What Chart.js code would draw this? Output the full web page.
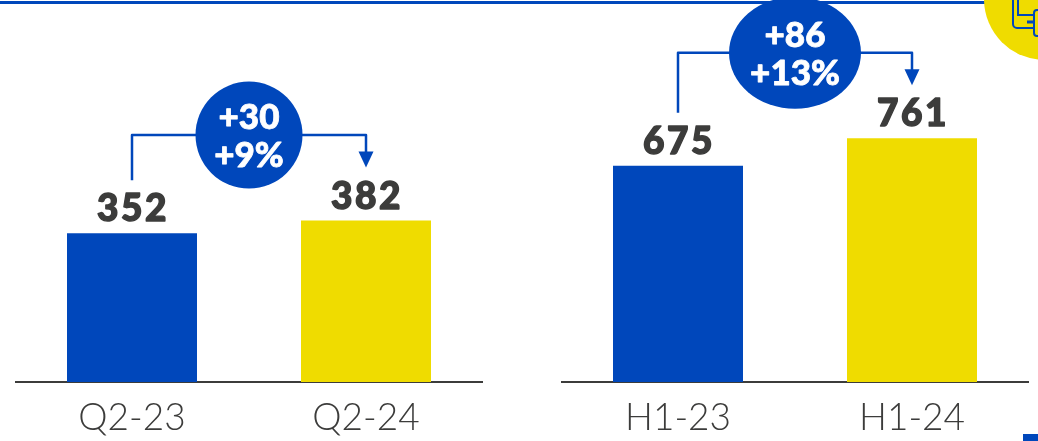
<!DOCTYPE html>
<html>
<head>
<meta charset="utf-8">
<title>Q2 and H1 comparison</title>
<script src="https://cdn.jsdelivr.net/npm/chart.js@4"></script>
<style>
  html, body { margin: 0; padding: 0; background: #fff; overflow: hidden; }
  body { position: relative; width: 1038px; height: 441px; }
  .top-rule { position: absolute; left: 0; top: 1px; width: 990px; height: 3px; background: #0047bb; }
  .badge { position: absolute; left: 0; top: 0; }
  .corner { position: absolute; left: 1023px; top: 434px; width: 15px; height: 7px; background: #0047bb; }
  .panel { position: absolute; top: 0; width: 468px; height: 441px; }
  #quarterChart { left: 15px; }
  #halfChart { left: 561px; }
  canvas { display: block; }
</style>
</head>
<body>
<div class="top-rule"></div>
<svg class="badge" width="1038" height="441">
  <circle cx="1045" cy="-1" r="61" fill="#efdc00"/>
  <g fill="none" stroke="#0047bb" stroke-width="2">
    <path d="M1013 0V24a4 4 0 0 0 4 4H1033"/>
    <path d="M1018 0V15H1034"/>
    <path d="M1027 22H1034" stroke-width="3"/>
    <rect x="1034" y="10" width="10" height="26" rx="3"/>
  </g>
</svg>
<div class="corner"></div>
<div class="panel" id="quarterChart"><canvas id="quarterCanvas" width="468" height="441"></canvas></div>
<div class="panel" id="halfChart"><canvas id="halfCanvas" width="468" height="441"></canvas></div>

<script>
const quarterLabels = ["Q2-23", "Q2-24"];
const quarterValues = [352, 382];
const quarterDelta = ["+30", "+9%"];

const halfLabels = ["H1-23", "H1-24"];
const halfValues = [675, 761];
const halfDelta = ["+86", "+13%"];

const barColors = ["#0047bb", "#efdc00"];
const blue = "#0047bb";
const dark = "#3c3c3b";

// Heavier than the installed Lato bold: fill plus a thin outline
function heavyText(ctx, text, x, y, weight) {
  ctx.lineWidth = weight;
  ctx.lineJoin = "round";
  ctx.strokeStyle = ctx.fillStyle;
  ctx.strokeText(text, x, y);
  ctx.fillText(text, x, y);
}

// Value labels, bracket with arrow and the delta bubble over each pair of bars
const annotate = {
  id: "annotate",
  afterDatasetsDraw(chart, args, opts) {
    const ctx = chart.ctx;
    const bars = chart.getDatasetMeta(0).data;
    const values = chart.data.datasets[0].data;

    ctx.save();
    ctx.textAlign = "center";
    ctx.textBaseline = "alphabetic";
    ctx.fillStyle = dark;
    ctx.font = "900 37px Lato";
    ctx.letterSpacing = "2.5px";
    bars.forEach((bar, i) => heavyText(ctx, String(values[i]), bar.x + 1, bar.y - 12, 1.4));
    ctx.letterSpacing = "0px";

    const x0 = bars[0].x;
    const x1 = bars[1].x;
    const top = Math.min(bars[0].y, bars[1].y) - 85.5;
    const midX = (x0 + x1) / 2;

    ctx.strokeStyle = blue;
    ctx.lineWidth = 2.5;
    ctx.lineJoin = "round";
    ctx.beginPath();
    ctx.moveTo(x0, bars[0].y - 53);
    ctx.lineTo(x0, top);
    ctx.lineTo(x1, top);
    ctx.lineTo(x1, bars[1].y - 68);
    ctx.stroke();

    ctx.fillStyle = blue;
    ctx.beginPath();
    ctx.moveTo(x1 - 7.5, bars[1].y - 69);
    ctx.lineTo(x1 + 7.5, bars[1].y - 69);
    ctx.lineTo(x1, bars[1].y - 53);
    ctx.closePath();
    ctx.fill();

    ctx.beginPath();
    ctx.ellipse(midX, top, opts.rx, opts.ry, 0, 0, Math.PI * 2);
    ctx.fill();

    ctx.fillStyle = "#fff";
    ctx.font = "900 35px Lato";
    heavyText(ctx, opts.delta[0], midX, top - 6, 0.8);
    heavyText(ctx, opts.delta[1], midX, top + 32, 0.8);
    ctx.restore();
  },
};

function drawPanel(canvasId, labels, values, delta, yMax, rx, ry) {
  new Chart(document.getElementById(canvasId), {
    type: "bar",
    data: {
      labels: labels,
      datasets: [{
        data: values,
        backgroundColor: barColors,
        borderWidth: 0,
        categoryPercentage: 1,
        barPercentage: 130 / 234,
      }],
    },
    options: {
      responsive: false,
      animation: false,
      layout: { padding: 0 },
      plugins: {
        legend: { display: false },
        tooltip: { enabled: false },
        annotate: { delta: delta, rx: rx, ry: ry },
      },
      scales: {
        x: {
          grid: { display: false, drawTicks: false },
          border: { display: true, color: dark, width: 2 },
          ticks: { color: "#3c3c3b", padding: 14, font: { family: "Lato", size: 37, weight: "300" } },
          afterFit(scale) { scale.height = 59; },
        },
        y: { display: false, min: 0, max: yMax },
      },
    },
    plugins: [annotate],
  });
}

drawPanel("quarterCanvas", quarterLabels, quarterValues, quarterDelta, 904, 53.5, 53.5);
drawPanel("halfCanvas", halfLabels, halfValues, halfDelta, 1193, 66, 56);
</script>
</body>
</html>
